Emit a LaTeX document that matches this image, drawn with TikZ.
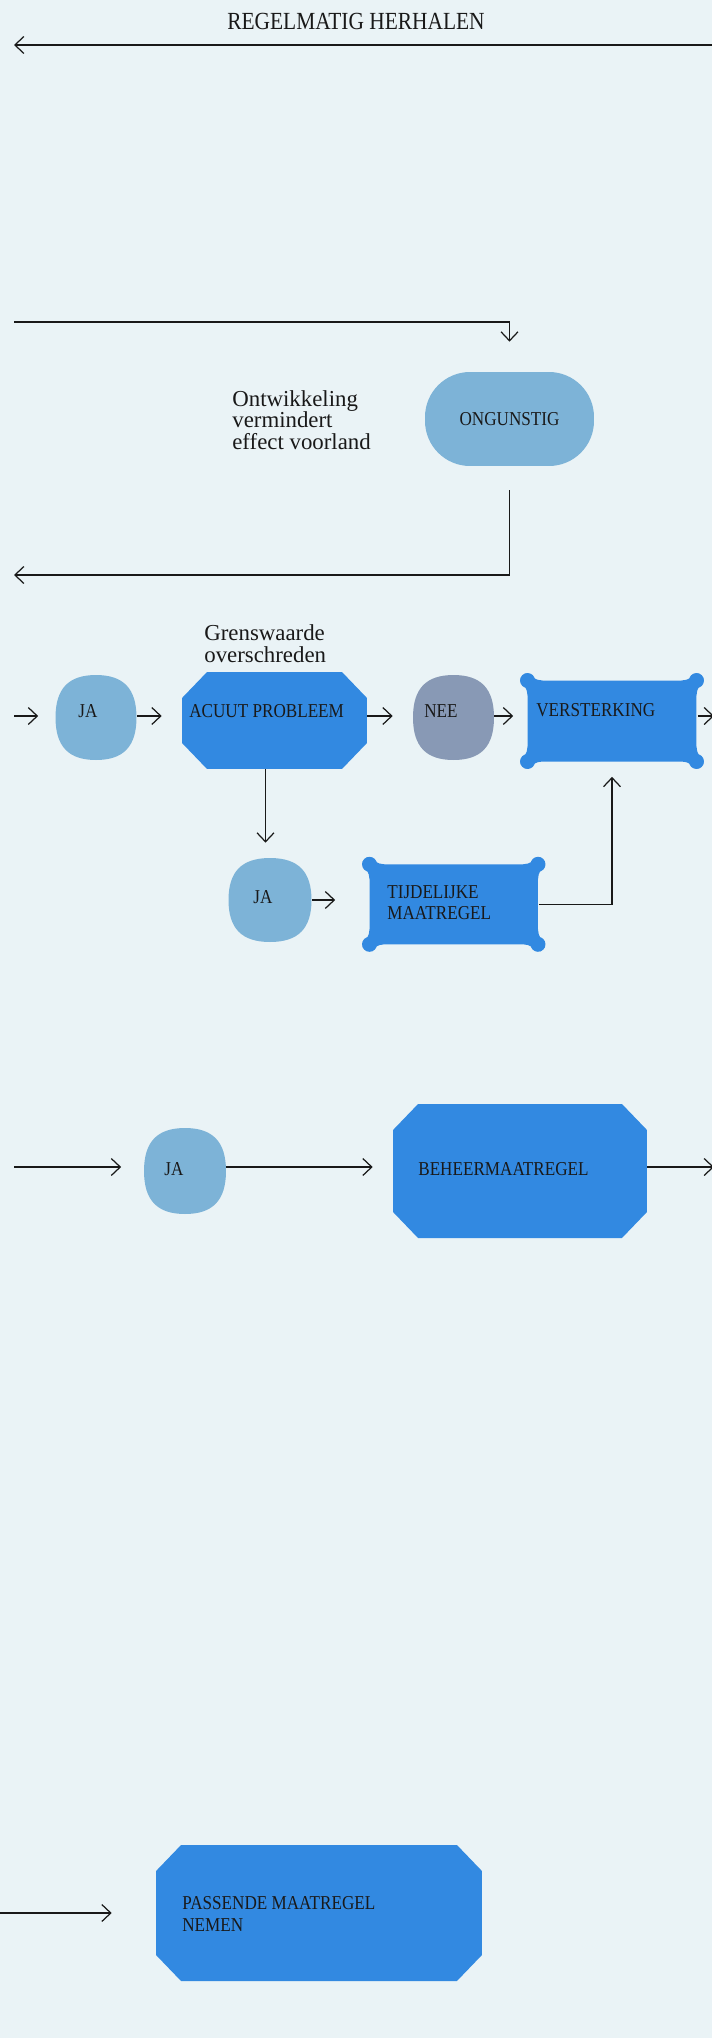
\documentclass[tikz,border=0pt]{standalone}
\usepackage{fontspec}
\setmainfont{Liberation Serif}[FakeStretch=0.87]
\newfontfamily\notefont{Liberation Serif}
\usetikzlibrary{arrows.meta, calc}
\definecolor{bgblue}{RGB}{234,243,246}
\definecolor{lightblue}{RGB}{125,179,215}
\definecolor{darkblue}{RGB}{50,137,225}
\definecolor{greyblue}{RGB}{136,153,181}
\definecolor{ink}{RGB}{25,25,25}

\tikzset{
  arr/.style={draw=ink, line width=0.7pt, -{Straight Barb[length=0.18cm,width=0.34cm]}},
  lbl/.style={inner sep=0pt, text=ink, align=left, anchor=base west, font=\fontsize{11.2}{12.2}\selectfont},
  note/.style={inner sep=0pt, text=ink, align=left, anchor=base west, font=\notefont\fontsize{13}{12.2}\selectfont},
  title/.style={inner sep=0pt, text=ink, anchor=base, font=\fontsize{14}{16}\selectfont},
  corners/.style={
    insert path={
    coordinate (nw) at (path picture bounding box.north west)
    coordinate (ne) at (path picture bounding box.north east)
    coordinate (sw) at (path picture bounding box.south west)
    coordinate (se) at (path picture bounding box.south east)
    coordinate (n) at (path picture bounding box.north)
    coordinate (e) at (path picture bounding box.east)
    coordinate (s) at (path picture bounding box.south)
    coordinate (w) at (path picture bounding box.west)}},
  blob/.style={rectangle, inner sep=0pt, minimum width=1.62cm, minimum height=1.7cm, path picture={
    \path[corners];
    \fill[#1] (n) .. controls ($(n)!0.68!(ne)$) and ($(e)!0.68!(ne)$) .. (e)
      .. controls ($(e)!0.68!(se)$) and ($(s)!0.68!(se)$) .. (s)
      .. controls ($(s)!0.68!(sw)$) and ($(w)!0.68!(sw)$) .. (w)
      .. controls ($(w)!0.68!(nw)$) and ($(n)!0.68!(nw)$) .. (n) -- cycle;}},
  blob/.default=lightblue,
  octbox/.style={rectangle, inner sep=0pt, path picture={
    \path[corners];
    \fill[darkblue] ([xshift=0.5cm]nw) -- ([xshift=-0.5cm]ne) -- ([yshift=-0.52cm]ne)
      -- ([yshift=0.52cm]se) -- ([xshift=-0.5cm]se) -- ([xshift=0.5cm]sw)
      -- ([yshift=0.52cm]sw) -- ([yshift=-0.52cm]nw) -- cycle;}},
  flarebox/.style={rectangle, inner sep=0pt, path picture={
    \path[corners];
    \fill[darkblue] ([shift={(0.01cm,-0.1cm)}]nw) -- ([shift={(0.1cm,-0.01cm)}]nw)
      to[out=-20,in=180] ([shift={(0.45cm,-0.15cm)}]nw)
      -- ([shift={(-0.45cm,-0.15cm)}]ne) to[out=0,in=-160] ([shift={(-0.1cm,-0.01cm)}]ne)
      -- ([shift={(-0.01cm,-0.1cm)}]ne) to[out=-110,in=90] ([shift={(-0.15cm,-0.45cm)}]ne)
      -- ([shift={(-0.15cm,0.45cm)}]se) to[out=-90,in=110] ([shift={(-0.01cm,0.1cm)}]se)
      -- ([shift={(-0.1cm,0.01cm)}]se) to[out=160,in=0] ([shift={(-0.45cm,0.15cm)}]se)
      -- ([shift={(0.45cm,0.15cm)}]sw) to[out=180,in=20] ([shift={(0.1cm,0.01cm)}]sw)
      -- ([shift={(0.01cm,0.1cm)}]sw) to[out=70,in=-90] ([shift={(0.15cm,0.45cm)}]sw)
      -- ([shift={(0.15cm,-0.45cm)}]nw) to[out=90,in=-70] ([shift={(0.01cm,-0.1cm)}]nw) -- cycle;
    \fill[darkblue] ([shift={(0.15cm,-0.15cm)}]nw) circle[radius=0.15cm]
      ([shift={(-0.15cm,-0.15cm)}]ne) circle[radius=0.15cm]
      ([shift={(0.15cm,0.15cm)}]sw) circle[radius=0.15cm]
      ([shift={(-0.15cm,0.15cm)}]se) circle[radius=0.15cm];}}
}

\begin{document}
\begin{tikzpicture}[x=0.02cm, y=-0.02cm]
\fill[bgblue] (0,0) rectangle (712,2038);
\useasboundingbox (0,0) rectangle (712,2038);

% herhalen
\node[title] (herhalen) at (356,30) {REGELMATIG HERHALEN};
\coordinate (top-r) at (712,45);
\coordinate (top-l) at (14,45);
\draw[arr] (top-r) -- (top-l);

% ongunstig
\coordinate (in1) at (14,322);
\coordinate (out1) at (14,575);
\node[rectangle, rounded corners=0.9cm, fill=lightblue, inner sep=0pt, minimum width=3.38cm,
  minimum height=1.88cm, text=ink, font=\fontsize{11.2}{12.2}\selectfont] (ongunstig) at (509.5,419) {ONGUNSTIG};
\node[note] (ontwikkeling) at (232,449) {Ontwikkeling\\vermindert\\effect voorland};
\draw[arr, shorten >=0.6cm] (in1) -| (ongunstig.north);
\draw[arr, shorten <=0.48cm] (ongunstig.south) |- (out1);

% acuut probleem
\coordinate (in2) at (14,716);
\coordinate (out2) at (714,716);
\node[blob] (ja1) at (96,717.5) {};
\node[octbox, minimum width=3.7cm, minimum height=1.94cm] (acuut) at (274.5,720.5) {};
\node[blob=greyblue] (nee) at (453.5,717.5) {};
\node[flarebox, minimum width=3.68cm, minimum height=1.92cm] (versterking) at (612,721) {};
\node[blob, minimum width=1.66cm, minimum height=1.68cm] (ja2) at (270,900) {};
\node[flarebox, minimum width=3.67cm, minimum height=1.9cm] (tijdelijk) at (453.75,904.3) {};

\node[note] (grenswaarde) at (204,662) {Grenswaarde\\overschreden};
\node[lbl] (ja1-t) at (78,717) {JA};
\node[lbl] (acuut-t) at (189,717) {ACUUT PROBLEEM};
\node[lbl] (nee-t) at (424,717) {NEE};
\node[lbl] (versterking-t) at (536,716.5) {VERSTERKING};
\node[lbl] (ja2-t) at (253,903) {JA};
\node[lbl] (tijdelijk-t) at (387,919.5) {TIJDELIJKE\\MAATREGEL};

\draw[arr, shorten >=0.34cm] (in2) -- (in2 -| ja1.west);
\draw[arr, shorten >=0.4cm] (ja1.east |- in2) -- (acuut.west |- in2);
\draw[arr, shorten >=0.4cm] (acuut.east |- in2) -- (nee.west |- in2);
\draw[arr, shorten >=0.13cm] (nee.east |- in2) -- (versterking.west |- in2);
\draw[arr, shorten <=-0.13cm] (versterking.east |- in2) -- (out2);
\coordinate (acuut-s) at ([xshift=-0.18cm]acuut.south);
\draw[arr, shorten >=0.3cm] (acuut-s) -- (acuut-s |- ja2.north);
\draw[arr, shorten >=0.53cm] (ja2.east) -- (ja2.east -| tijdelijk.west);
\draw[arr, shorten <=-0.14cm, shorten >=0.15cm] (tijdelijk.east) -| (versterking.south);

% beheermaatregel
\coordinate (in3) at (14,1167);
\coordinate (out3) at (714,1167);
\node[blob, minimum width=1.64cm, minimum height=1.72cm] (ja3) at (185,1171) {};
\node[octbox, minimum width=5.08cm, minimum height=2.68cm] (beheer) at (520,1171) {};
\node[lbl] (ja3-t) at (164,1175) {JA};
\node[lbl] (beheer-t) at (418,1175) {BEHEERMAATREGEL};
\draw[arr, shorten >=0.45cm] (in3) -- (in3 -| ja3.west);
\draw[arr, shorten >=0.4cm] (ja3.east |- in3) -- (beheer.west |- in3);
\draw[arr] (beheer.east |- in3) -- (out3);

% passende maatregel
\coordinate (in4) at (0,1913);
\node[octbox, minimum width=6.52cm, minimum height=2.72cm] (passend) at (319,1913) {};
\node[lbl] (passend-t) at (182,1931) {PASSENDE MAATREGEL\\NEMEN};
\draw[arr, shorten >=0.88cm] (in4) -- (passend.west);
\end{tikzpicture}
\end{document}
